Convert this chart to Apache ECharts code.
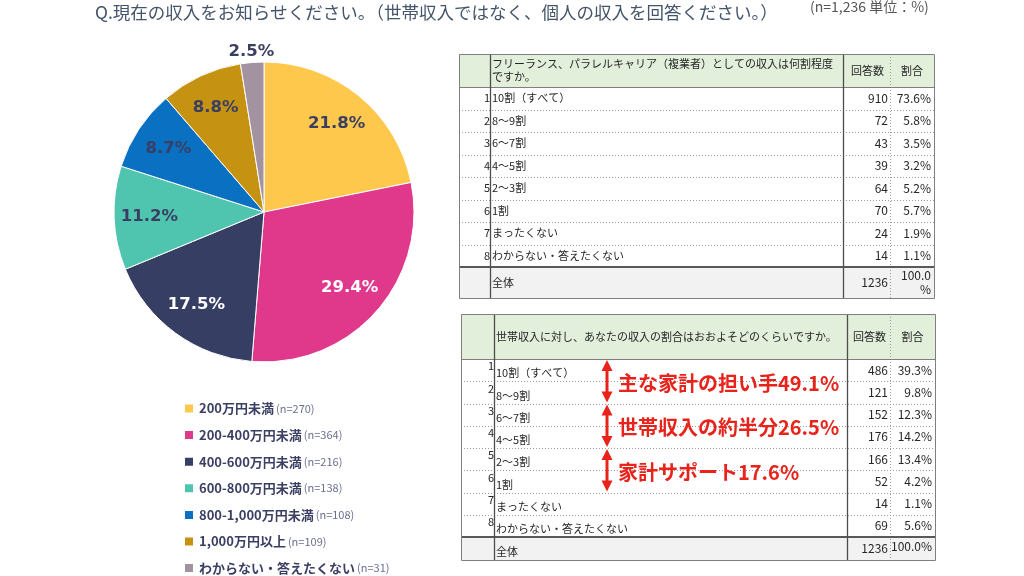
<!DOCTYPE html>
<html>
<head>
<meta charset="utf-8">
<script src="https://cdn.jsdelivr.net/npm/echarts@6/dist/echarts.min.js"></script>
<style>
html, body { margin: 0; padding: 0; background: #fff; }
#main { width: 1024px; height: 576px; }
</style>
</head>
<body>
<div id="main"></div>
<script>
// 円グラフ：個人の収入
var incomeNames = ['200万円未満', '200-400万円未満', '400-600万円未満', '600-800万円未満', '800-1,000万円未満', '1,000万円以上', 'わからない・答えたくない'];
var incomeCounts = [270, 364, 216, 138, 108, 109, 31];
var incomePcts = ['21.8%', '29.4%', '17.5%', '11.2%', '8.7%', '8.8%', '2.5%'];

// 表1：複業者としての収入の割合
var q1Header = ['フリーランス、パラレルキャリア（複業者）としての収入は何割程度', 'ですか。'];
var q1Labels = ['10割（すべて）', '8～9割', '6～7割', '4～5割', '2～3割', '1割', 'まったくない', 'わからない・答えたくない'];
var q1Counts = [910, 72, 43, 39, 64, 70, 24, 14];
var q1Ratios = ['73.6%', '5.8%', '3.5%', '3.2%', '5.2%', '5.7%', '1.9%', '1.1%'];
var q1Total = [1236, '100.0', '%'];

// 表2：世帯収入に対する割合
var q2Header = ['世帯収入に対し、あなたの収入の割合はおおよそどのくらいですか。'];
var q2Labels = ['10割（すべて）', '8～9割', '6～7割', '4～5割', '2～3割', '1割', 'まったくない', 'わからない・答えたくない'];
var q2Counts = [486, 121, 152, 176, 166, 52, 14, 69];
var q2Ratios = ['39.3%', '9.8%', '12.3%', '14.2%', '13.4%', '4.2%', '1.1%', '5.6%'];
var q2Total = [1236, '100.0%'];

// 注釈（行のまとまり）
var notes = [
    { text: '主な家計の担い手49.1%', from: 0, to: 1 },
    { text: '世帯収入の約半分26.5%', from: 2, to: 3 },
    { text: '家計サポート17.6%', from: 4, to: 5 }
];

var pieColors = ['#fec84d', '#e0388a', '#373e64', '#4fc4af', '#0a70c2', '#c69212', '#a3929f'];
var JP = '"Noto Sans CJK JP", sans-serif';
var RED = '#e8231b';
var CX = 264, CY = 212, R = 150;

function txt(s, x, y, align, size, color, weight) {
    return {
        type: 'text', silent: true,
        style: {
            text: s, x: x, y: y,
            textAlign: align, textVerticalAlign: 'middle',
            align: align, verticalAlign: 'middle',
            font: (weight || 'normal') + ' ' + size + 'px ' + JP,
            fill: color
        }
    };
}
function hline(x1, x2, y, color, w, dash) {
    return { type: 'line', silent: true, shape: { x1: x1, y1: y, x2: x2, y2: y },
        style: { stroke: color, lineWidth: w, lineDash: dash || null } };
}
function vline(x, y1, y2, color, w, dash) {
    return { type: 'line', silent: true, shape: { x1: x, y1: y1, x2: x, y2: y2 },
        style: { stroke: color, lineWidth: w, lineDash: dash || null } };
}
function box(x, y, w, h, fill, stroke) {
    return { type: 'rect', silent: true, shape: { x: x, y: y, width: w, height: h },
        style: { fill: fill || 'none', stroke: stroke || 'none', lineWidth: 1 } };
}

function tableGraphics(t) {
    var els = [];
    var n = t.labels.length;
    var yTotal = t.yHead + n * t.rowH;
    var yBottom = yTotal + t.totalH;
    els.push(box(t.x0, t.yTop, t.x1 - t.x0, t.yHead - t.yTop, '#e2efda'));
    els.push(box(t.x0, yTotal, t.x1 - t.x0, t.totalH, '#f2f2f2'));
    for (var i = 1; i < n; i++) {
        els.push(hline(t.x0, t.x1, Math.round(t.yHead + i * t.rowH) + 0.5, '#9c9c9c', 1, [1, 2]));
    }
    els.push(vline(t.xDiv + 0.5, t.yTop, yBottom, '#9c9c9c', 1, [1, 2]));
    els.push(hline(t.x0, t.x1, t.yHead + 0.5, '#7f7f7f', 1));
    els.push(hline(t.x0, t.x1, yTotal, '#595959', 2));
    els.push(vline(t.xNum + 0.5, t.yTop, yBottom, '#4d4d4d', 1.3));
    els.push(vline(t.xCnt + 0.5, t.yTop, yBottom, '#4d4d4d', 1.3));
    els.push(box(t.x0 + 0.5, t.yTop + 0.5, t.x1 - t.x0, yBottom - t.yTop, null, '#7f7f7f'));

    // header
    var hy = (t.yTop + t.yHead) / 2;
    var hl = t.header.length;
    t.header.forEach(function (s, k) {
        els.push(txt(s, t.xNum + 2, hy + (k - (hl - 1) / 2) * 13, 'left', 11, '#262626'));
    });
    els.push(txt('回答数', (t.xCnt + t.xDiv) / 2 + 1, hy, 'center', 11, '#262626'));
    els.push(txt('割合', (t.xDiv + t.x1) / 2, hy, 'center', 11, '#262626'));

    // rows
    for (var j = 0; j < n; j++) {
        var top = t.yHead + j * t.rowH;
        var c = top + t.rowH / 2;
        els.push(txt(String(j + 1), t.xNum, c + t.numDy, 'right', 11, '#262626'));
        els.push(txt(t.labels[j], t.xNum + 2, c + t.labDy, 'left', 11, '#262626'));
        els.push(txt(String(t.counts[j]), t.xDiv - 2, c, 'right', 12, '#262626'));
        els.push(txt(t.ratios[j], t.x1 - 3, c, 'right', 12, '#262626'));
    }
    // total
    var tc = yTotal + t.totalH / 2;
    els.push(txt('全体', t.xNum + 2, tc + t.labDy, 'left', 11, '#262626'));
    els.push(txt(String(t.total[0]), t.xDiv - 2, tc, 'right', 12, '#262626'));
    if (t.total.length === 3) {
        els.push(txt(t.total[1], t.x1 - 3, tc - 7, 'right', 12, '#262626'));
        els.push(txt(t.total[2], t.x1 - 3, tc + 7, 'right', 12, '#262626'));
    } else {
        els.push(txt(t.total[1], t.x1 - 3, tc - 2, 'right', 12, '#262626'));
    }
    return els;
}

var table1 = {
    x0: 459, xNum: 490, xCnt: 843, xDiv: 890, x1: 934,
    yTop: 54, yHead: 87, rowH: 22.5, totalH: 31, numDy: 0, labDy: 0,
    header: q1Header, labels: q1Labels, counts: q1Counts, ratios: q1Ratios, total: q1Total
};
var table2 = {
    x0: 461, xNum: 494, xCnt: 847, xDiv: 890, x1: 935,
    yTop: 314, yHead: 359, rowH: 22.25, totalH: 23, numDy: -4, labDy: 3,
    header: q2Header, labels: q2Labels, counts: q2Counts, ratios: q2Ratios, total: q2Total
};

function noteGraphics(t) {
    var els = [];
    var ax = 607;
    notes.forEach(function (nt) {
        var y1 = t.yHead + nt.from * t.rowH + 1;
        var y2 = t.yHead + (nt.to + 1) * t.rowH - 1;
        els.push(vline(ax, y1 + 8, y2 - 8, RED, 3));
        els.push({ type: 'polygon', silent: true, shape: { points: [[ax, y1], [ax - 5.5, y1 + 11], [ax + 5.5, y1 + 11]] }, style: { fill: RED } });
        els.push({ type: 'polygon', silent: true, shape: { points: [[ax, y2], [ax - 5.5, y2 - 11], [ax + 5.5, y2 - 11]] }, style: { fill: RED } });
        els.push(txt(nt.text, 618, (y1 + y2) / 2 + 2, 'left', 20, RED, 'bold'));
    });
    return els;
}

var chart = echarts.init(document.getElementById('main'));

var option = {
    backgroundColor: '#fff',
    animation: false,
    title: [{
        text: 'Q.現在の収入をお知らせください。（世帯収入ではなく、個人の収入を回答ください。）',
        left: 95, top: 4, padding: 0,
        textStyle: { fontFamily: JP, fontSize: 17.5, fontWeight: 'normal', color: '#44546a' }
    }, {
        text: '(n=1,236 単位：%)',
        left: 810, top: 0, padding: 0,
        textStyle: { fontFamily: JP, fontSize: 14, fontWeight: 'normal', color: '#555' }
    }],
    legend: {
        orient: 'vertical',
        left: 183, top: 402, bottom: 0, padding: 0,
        icon: 'rect', itemWidth: 10, itemHeight: 10, itemGap: 13.6,
        data: incomeNames,
        formatter: function (name) {
            var i = incomeNames.indexOf(name);
            return '{a|' + name + '}{b|(n=' + incomeCounts[i] + ')}';
        },
        textStyle: {
            rich: {
                a: { fontFamily: JP, fontSize: 13, fontWeight: 'bold', color: '#3b3f63', lineHeight: 16 },
                b: { fontFamily: JP, fontSize: 11, color: '#6c7090', lineHeight: 16, padding: [0, 0, 0, 2] }
            }
        }
    },
    series: [{
        type: 'pie',
        center: [CX, CY],
        radius: R,
        startAngle: 90,
        clockwise: true,
        silent: true,
        itemStyle: { borderColor: '#fff', borderWidth: 1 },
        label: {
            show: true,
            position: 'inside',
            fontFamily: '"DejaVu Sans", sans-serif',
            fontWeight: 'bold',
            fontSize: 16.5,
            color: '#3a3f62',
            formatter: function (p) { return incomePcts[p.dataIndex]; }
        },
        labelLayout: function (p) {
            var r = p.labelRect;
            var k = p.dataIndex === 6 ? 1.06 : 0.47;
            return {
                dx: (r.x + r.width / 2 - CX) * k,
                dy: (r.y + r.height / 2 - CY) * k
            };
        },
        data: incomeNames.map(function (name, i) {
            return {
                name: name,
                value: incomeCounts[i],
                itemStyle: { color: pieColors[i] },
                label: (i === 1 || i === 2) ? { color: '#fff' } : {}
            };
        })
    }],
    graphic: { elements: tableGraphics(table1).concat(tableGraphics(table2), noteGraphics(table2)) }
};

chart.setOption(option);
</script>
</body>
</html>
